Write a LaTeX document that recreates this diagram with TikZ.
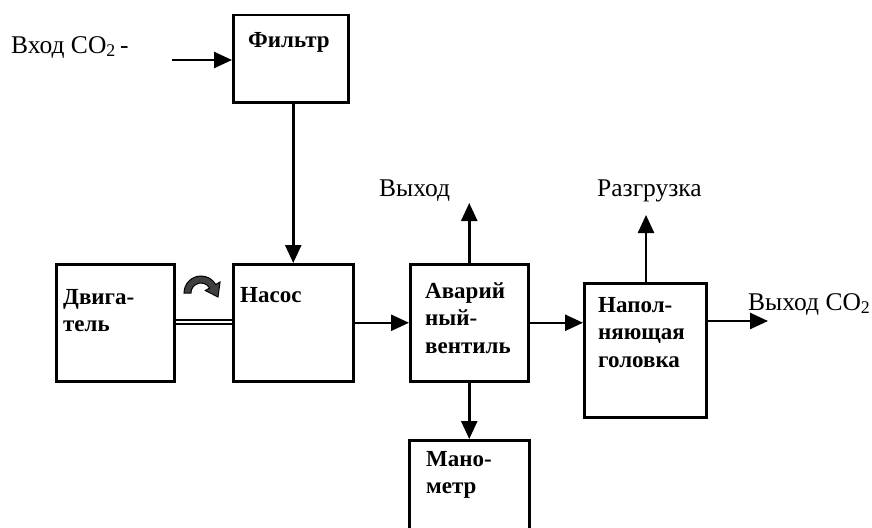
\documentclass[tikz,border=0pt]{standalone}
\usepackage{fontspec}
\setmainfont{Liberation Serif}
\usetikzlibrary{arrows.meta}
\begin{document}
\begin{tikzpicture}[x=1pt,y=-1pt,
  box/.style={draw, line width=2.5pt, inner sep=0pt, anchor=north west},
  conn/.style={line width=2.5pt},
  arr/.style={conn, -{Triangle[length=18pt,width=16pt]}},
  lbl/.style={font=\fontsize{25.5}{30}\selectfont, inner sep=0pt, anchor=base west},
  blbl/.style={font=\fontsize{23}{27.5}\selectfont\bfseries, inner sep=0pt, anchor=north west, align=left}]
\useasboundingbox (0,0) rectangle (872,527);
\clip (0,0) rectangle (872,527);

% boxes
\node[box, minimum width=115pt, minimum height=87pt]  (filtr)  at (232,14)  {};
\node[box, minimum width=118pt, minimum height=117pt] (dvig)   at (55,263)  {};
\node[box, minimum width=120pt, minimum height=117pt] (nasos)  at (232,263) {};
\node[box, minimum width=118pt, minimum height=117pt] (avar)   at (409,263) {};
\node[box, minimum width=122pt, minimum height=134pt] (napoln) at (583,282) {};
\node[box, minimum width=120pt, minimum height=120pt] (mano)   at (408,439) {};

% box labels
\node[blbl] (filtr-t)  at (248,32)  {Фильтр};
\node[blbl] (dvig-t)   at (63,289)  {Двига-\\тель};
\node[blbl] (nasos-t)  at (240,287) {Насос};
\node[blbl] (avar-t)   at (425,282) {Аварий\\ный-\\вентиль};
\node[blbl] (napoln-t) at (598,297) {Напол-\\няющая\\головка};
\node[blbl] (mano-t)   at (426,451) {Мано-\\метр};

% outer labels
\node[lbl] (in-t)    at (11,53)   {Вход CO\textsubscript{2}\,-};
\node[lbl] (out1-t)  at (379,196) {Выход};
\node[lbl] (razgr-t) at (597,196) {Разгрузка};
\node[lbl] (out2-t)  at (748,310) {Выход CO\textsubscript{2}};

% connectors
\coordinate (in) at (172,60);
\draw[arr] (in) -- (in -| filtr.west);
\draw[arr] (nasos.north |- filtr.south) -- (nasos.north);
\draw[double, double distance=2pt, line width=1.6pt] (dvig.east |- 0,322) -- (nasos.west |- 0,322);
\draw[arr] (nasos.east) -- (avar.west);
\draw[arr] (avar.east) -- (avar.east -| napoln.west);
\draw[arr] (avar.north) -- ++(0,-60) coordinate (out1);
\coordinate (razgr) at (646,215);
\draw[arr] (razgr |- napoln.north) -- (razgr);
\coordinate (out2) at (768,321);
\draw[arr] (out2 -| napoln.east) -- (out2);
\draw[arr] (avar.south) -- (avar.south |- mano.north);

% rotation symbol
\begin{scope}[shift={(201,293)}, yscale=-1]
  \filldraw[fill=black!75, draw=black, line width=1pt]
    (180:17) arc[start angle=180, end angle=30, radius=17]
    -- (30:22) -- (17,-4) -- (30:5) -- (30:10)
    arc[start angle=30, end angle=180, radius=10] -- cycle;
\end{scope}
\end{tikzpicture}
\end{document}
